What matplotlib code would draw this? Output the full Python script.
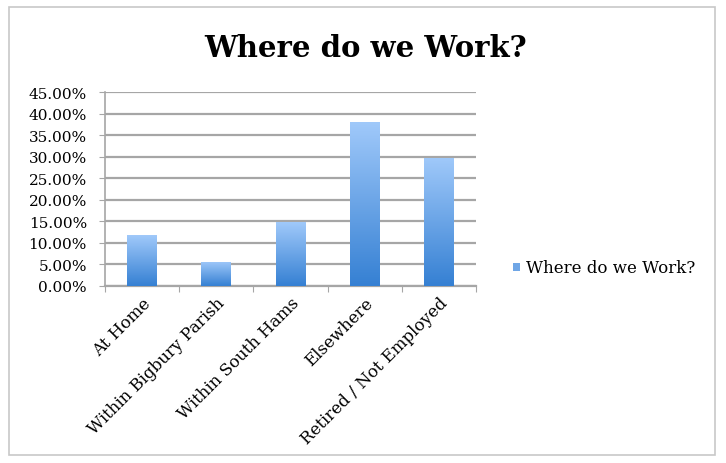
import numpy as np
import matplotlib
matplotlib.use('Agg')
import matplotlib.pyplot as plt
from matplotlib.patches import Rectangle
from matplotlib.colors import LinearSegmentedColormap
from matplotlib.ticker import PercentFormatter

# Data
categories = ['At Home', 'Within Bigbury Parish', 'Within South Hams', 'Elsewhere', 'Retired / Not Employed']
values = [11.8, 5.6, 14.8, 38.0, 29.7]
series_name = 'Where do we Work?'

plt.rcParams['font.family'] = ['DejaVu Serif']

fig = plt.figure(figsize=(7.26, 4.64), dpi=100)
ax = fig.add_axes([0.1446, 0.3815, 0.511, 0.418])

# outer chart border
fig.patches.append(Rectangle((0.013, 0.017), 0.972, 0.965, transform=fig.transFigure,
                             fill=False, edgecolor='#c8c8c8', linewidth=1.2))

x = np.arange(len(categories))
bars = ax.bar(x, values, width=0.4, color='#5b9be0', edgecolor='none', zorder=2)

# vertical gradient for each bar
cmap = LinearSegmentedColormap.from_list('blues', ['#3580d3', '#a0c9fa'])
grad = np.linspace(0, 1, 256).reshape(-1, 1)
for b in bars:
    bx, by = b.get_x(), b.get_y()
    w, h = b.get_width(), b.get_height()
    im = ax.imshow(grad, extent=[bx, bx + w, by, by + h], origin='lower',
                   cmap=cmap, aspect='auto', zorder=3)
    im.set_clip_path(b)

ax.set_xlim(-0.5, len(categories) - 0.5)
ax.set_ylim(0, 45)
ax.set_yticks(np.arange(0, 46, 5))
ax.yaxis.set_major_formatter(PercentFormatter(decimals=2))
ax.grid(axis='y', color='#a6a6a6', linewidth=1.6, zorder=0)
ax.set_axisbelow(True)

ax.set_xticks(np.arange(-0.5, len(categories), 1), minor=False)
ax.set_xticklabels([])
ax.set_xticks(x, minor=True)
ax.set_xticklabels(categories, minor=True, rotation=45, ha='right', rotation_mode='anchor', fontsize=12)
ax.tick_params(axis='x', which='minor', length=0, pad=6)
ax.tick_params(axis='x', which='major', length=4, color='#a6a6a6')
ax.tick_params(axis='y', length=4, color='#a6a6a6', labelsize=11, pad=9)

for s in ['top', 'right']:
    ax.spines[s].set_visible(False)
ax.spines['left'].set_color('#a6a6a6')
ax.spines['bottom'].set_color('#a6a6a6')
ax.spines['left'].set_linewidth(1.2)
ax.spines['bottom'].set_linewidth(1.6)

fig.text(0.503, 0.895, series_name, ha='center', va='center', fontsize=21, fontweight='bold')

# legend
fig.patches.append(Rectangle((0.706, 0.413), 0.01, 0.017, transform=fig.transFigure,
                             facecolor='#6fa6e6', edgecolor='none'))
fig.text(0.724, 0.422, series_name, ha='left', va='center', fontsize=12)

fig.savefig('out.png', dpi=100)
